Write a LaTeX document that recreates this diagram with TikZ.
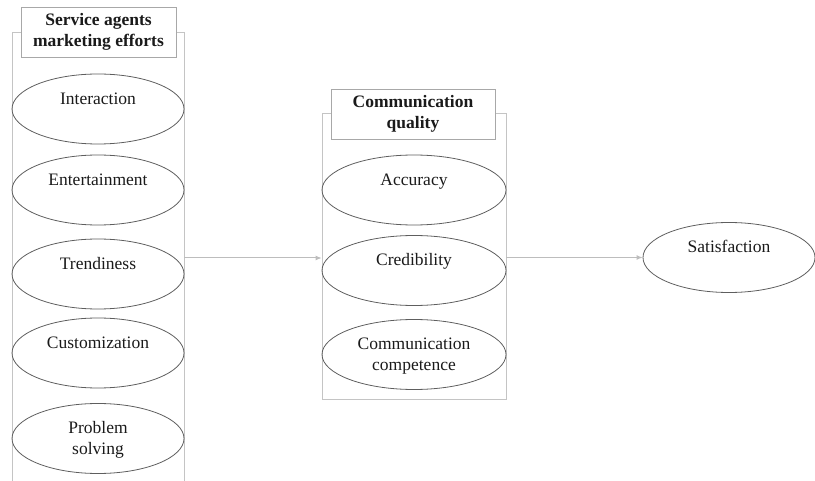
\documentclass[tikz,border=0pt]{standalone}
\usepackage{fontspec}
\setmainfont{Liberation Serif}
\usetikzlibrary{shapes.geometric,arrows.meta}
\definecolor{boxline}{HTML}{C4C4C4}
\definecolor{titleline}{HTML}{A8A8A8}
\definecolor{ovalline}{HTML}{5E5E5E}
\definecolor{arrowline}{HTML}{BDBDBD}
\definecolor{ink}{HTML}{1A1A1A}
\tikzset{
  oval/.style={ellipse, draw=ovalline, line width=0.8pt, minimum width=172pt,
    minimum height=70pt, inner sep=0pt},
  wideoval/.style={oval, minimum width=184pt},
  word/.style={text=ink, font=\fontsize{17.5}{20.5}\selectfont, anchor=base, inner sep=0pt},
  twoline/.style={text=ink, font=\fontsize{17.5}{20.5}\selectfont, align=center, inner sep=0pt},
  titlebox/.style={draw=titleline, fill=white, line width=0.7pt, align=center,
    text=ink, font=\fontsize{17.5}{20.5}\selectfont\bfseries, inner sep=0pt,
    minimum height=50pt},
  groupbox/.style={draw=boxline, line width=0.8pt},
  link/.style={draw=arrowline, line width=1pt, -{Latex[length=6pt,width=5pt]}}
}
\begin{document}
\begin{tikzpicture}[x=1pt,y=-1pt]
  \useasboundingbox (0,0) rectangle (815,481);

  % service agents group: open at the bottom
  \draw[groupbox] (12,481) -- (12,32) -- (184,32) -- (184,481);
  \coordinate (seR) at (184,258);
  \node[titlebox, minimum width=155pt] (seT) at (98.5,32) {Service agents\\marketing efforts};

  \node[oval] (inter) at (98,109) {};
  \node[word] (interL) at (98,104.5) {Interaction};
  \node[oval] (enter) at (98,190) {};
  \node[word] (enterL) at (98,185.5) {Entertainment};
  \node[oval] (trend) at (98,274) {};
  \node[word] (trendL) at (98,269.5) {Trendiness};
  \node[oval] (custom) at (98,353) {};
  \node[word] (customL) at (98,348.5) {Customization};
  \node[oval] (prob) at (98,438.5) {};
  \node[twoline] (probL) at (98,440) {Problem\\solving};

  % communication quality group
  \node[groupbox, minimum width=184pt, minimum height=286pt, inner sep=0pt] (cq) at (414,256) {};
  \node[titlebox, minimum width=164pt] (cqT) at (413,114) {Communication\\quality};

  \node[wideoval] (acc) at (414,190) {};
  \node[word] (accL) at (414,185.5) {Accuracy};
  \node[wideoval] (cred) at (414,270.5) {};
  \node[word] (credL) at (414,266) {Credibility};
  \node[wideoval] (comp) at (414,354.5) {};
  \node[twoline] (compL) at (414,356) {Communication\\competence};

  % outcome
  \node[oval] (sat) at (729,257.5) {};
  \node[word] (satL) at (729,252.5) {Satisfaction};

  % relations
  \draw[link] (seR) -- (seR -| cq.west);
  \draw[link] (cq.east |- sat.west) -- (sat.west);
\end{tikzpicture}
\end{document}
